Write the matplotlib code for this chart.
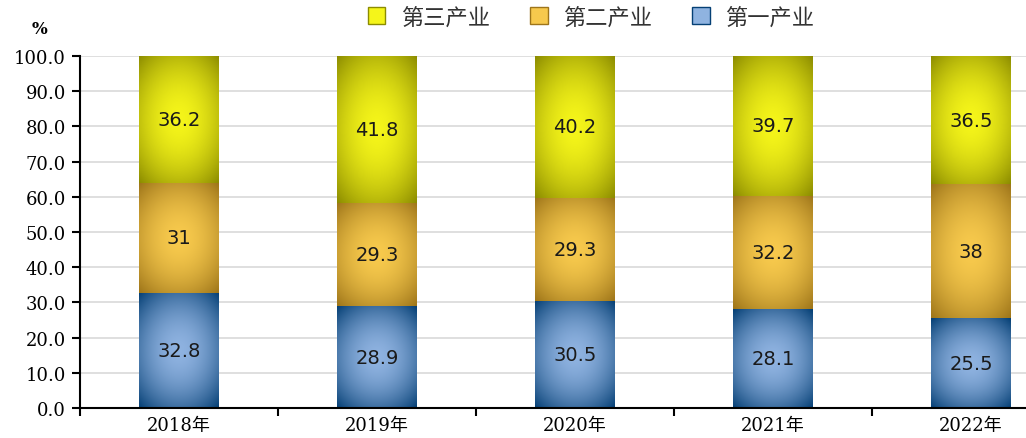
import numpy as np
import matplotlib
matplotlib.use("Agg")
import matplotlib.pyplot as plt
from matplotlib.patches import Patch

# --- données ---
years = ["2018年", "2019年", "2020年", "2021年", "2022年"]
primaire = [32.8, 28.9, 30.5, 28.1, 25.5]     # 第一产业
secondaire = [31, 29.3, 29.3, 32.2, 38]       # 第二产业
tertiaire = [36.2, 41.8, 40.2, 39.7, 36.5]    # 第三产业
labels_prim = ["32.8", "28.9", "30.5", "28.1", "25.5"]
labels_sec = ["31", "29.3", "29.3", "32.2", "38"]
labels_ter = ["36.2", "41.8", "40.2", "39.7", "36.5"]

# couleurs centre / bord pour le dégradé
colors = {
    "ter": ((0.96, 0.96, 0.10), (0.55, 0.55, 0.0)),
    "sec": ((0.97, 0.79, 0.30), (0.62, 0.46, 0.10)),
    "prim": ((0.56, 0.70, 0.88), (0.02, 0.25, 0.46)),
}

serif = ["DejaVu Serif", "Noto Sans CJK SC"]
cjk = ["Noto Sans CJK SC", "DejaVu Sans"]


def gradient_img(c_center, c_edge, n=80):
    u = np.linspace(-1, 1, n)
    U, V = np.meshgrid(u, u)
    d = np.sqrt((U ** 2) * 0.8 + V ** 2) / np.sqrt(1.8)
    t = np.clip(d, 0, 1) ** 1.8
    c0 = np.array(c_center)
    c1 = np.array(c_edge)
    return c0[None, None, :] * (1 - t[..., None]) + c1[None, None, :] * t[..., None]


fig = plt.figure(figsize=(10.26, 4.39), dpi=100)
ax = fig.add_axes([80 / 1026, 30 / 439, 1 - 80 / 1026, 352 / 439])

x = np.arange(len(years))
w = 0.4
b1 = ax.bar(x, primaire, w, color="none", zorder=3)
b2 = ax.bar(x, secondaire, w, bottom=primaire, color="none", zorder=3)
bot3 = np.array(primaire) + np.array(secondaire)
b3 = ax.bar(x, tertiaire, w, bottom=bot3, color="none", zorder=3)

for bars, key, labs in [(b1, "prim", labels_prim), (b2, "sec", labels_sec), (b3, "ter", labels_ter)]:
    img = gradient_img(*colors[key])
    for rect, lab in zip(bars, labs):
        x0, y0 = rect.get_x(), rect.get_y()
        rw, rh = rect.get_width(), rect.get_height()
        y1 = min(y0 + rh, 100)
        ax.imshow(img, extent=(x0, x0 + rw, y0, y1), aspect="auto",
                  origin="lower", zorder=2, interpolation="bilinear")
        ax.text(x0 + rw / 2, (y0 + y1) / 2, lab, ha="center", va="center",
                fontsize=14, color="#1a1a1a", zorder=4)

ax.set_xlim(-0.5, -0.5 + 946 / 198)
ax.set_ylim(0, 100)
ax.set_yticks(np.arange(0, 101, 10))
ax.set_yticklabels([f"{v:.1f}" for v in np.arange(0, 101, 10)], family=serif, fontsize=13)
ax.set_xticks(x)
ax.set_xticklabels(years, family=serif, fontsize=13)
ax.set_xticks(list(np.arange(-0.5, 4.5, 1)), minor=True)
ax.tick_params(axis="x", which="major", length=0, pad=6)
ax.tick_params(axis="x", which="minor", length=6, width=1.5, direction="out")
ax.tick_params(axis="y", length=6, width=1.5, direction="out", pad=4)

ax.grid(axis="y", color="#d9d9d9", linewidth=1.2, zorder=0)
ax.set_axisbelow(True)
for s in ["top", "right"]:
    ax.spines[s].set_visible(False)
ax.spines["left"].set_linewidth(1.5)
ax.spines["bottom"].set_linewidth(1.5)

fig.text(32 / 1026, 1 - 30 / 439, "%", family=serif, fontsize=12, fontweight="bold",
         ha="left", va="center")

handles = [Patch(facecolor=colors["ter"][0], edgecolor=colors["ter"][1]),
           Patch(facecolor=colors["sec"][0], edgecolor=colors["sec"][1]),
           Patch(facecolor=colors["prim"][0], edgecolor=colors["prim"][1])]
fig.legend(handles, ["第三产业", "第二产业", "第一产业"], loc="center",
           bbox_to_anchor=(591 / 1026, 1 - 18 / 439), ncol=3, frameon=False,
           prop={"family": cjk, "size": 16}, labelcolor="#333333",
           handlelength=0.8, handleheight=0.8,
           handletextpad=0.7, columnspacing=1.8)

fig.savefig("out.png", dpi=100)
